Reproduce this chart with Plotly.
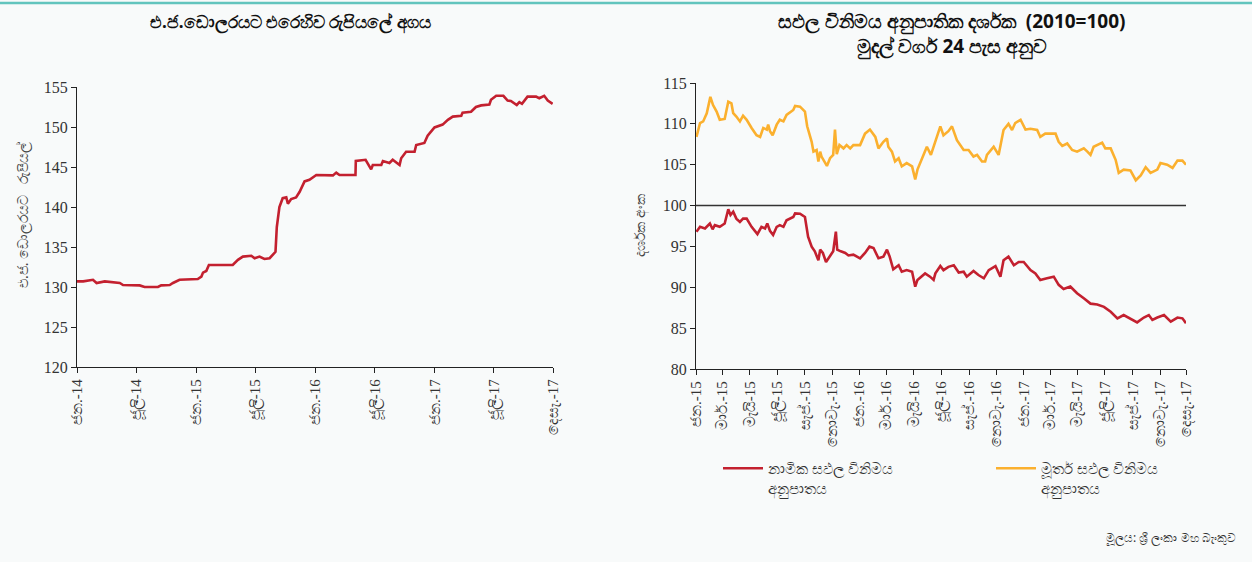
import plotly.graph_objects as go

# ---------------- data ----------------
usd_dates = ["2014-01-01","2014-01-20","2014-02-19","2014-03-02","2014-03-27","2014-05-12","2014-05-22",
             "2014-07-12","2014-07-27","2014-09-06","2014-09-16","2014-10-12","2014-10-22","2014-11-11",
             "2015-01-06","2015-01-17","2015-01-22","2015-02-01","2015-02-09","2015-04-23","2015-05-09",
             "2015-05-24","2015-06-19","2015-06-29","2015-07-14","2015-07-29","2015-08-14","2015-09-01",
             "2015-09-05","2015-09-08","2015-09-13","2015-09-23","2015-10-04","2015-10-09","2015-10-19",
             "2015-11-03","2015-11-14","2015-11-29","2015-12-14","2016-01-04","2016-02-24","2016-03-05",
             "2016-03-15","2016-05-03","2016-05-04","2016-06-03","2016-06-20","2016-06-25","2016-07-21",
             "2016-07-26","2016-08-15","2016-08-25","2016-09-15","2016-09-20","2016-10-05","2016-10-31",
             "2016-11-05","2016-11-30","2016-12-10","2016-12-31","2017-01-25","2017-02-10","2017-02-25",
             "2017-03-23","2017-03-27","2017-04-22","2017-05-07","2017-05-23","2017-06-17","2017-06-22",
             "2017-07-08","2017-07-30","2017-08-12","2017-08-22","2017-09-09","2017-09-17","2017-09-25",
             "2017-10-12","2017-11-07","2017-11-17","2017-12-02","2017-12-13","2017-12-28"]
usd_rate = [130.7,130.7,130.9,130.5,130.7,130.5,130.25,
            130.2,130.0,130.0,130.2,130.25,130.5,130.9,
            131.0,131.3,131.8,132.0,132.75,132.75,133.4,
            133.8,133.9,133.6,133.8,133.5,133.6,134.4,
            137.5,138.8,140.0,141.1,141.2,140.4,141.0,
            141.2,141.9,143.2,143.4,144.0,143.95,144.3,
            144.0,144.0,145.75,145.9,144.7,145.25,145.25,
            145.75,145.5,145.9,145.25,146.1,146.9,146.9,
            147.75,148.0,148.9,149.95,150.3,150.9,151.3,
            151.4,151.8,151.9,152.5,152.7,152.8,153.4,
            153.9,153.9,153.3,153.25,152.75,153.1,152.9,
            153.8,153.8,153.6,153.9,153.3,152.9]

reer_dates = ["2015-01-02","2015-01-10","2015-01-17","2015-01-25","2015-02-02","2015-02-08","2015-02-16",
              "2015-02-23","2015-03-06","2015-03-14","2015-03-21","2015-03-25","2015-04-01","2015-04-09",
              "2015-04-16","2015-04-24","2015-05-05","2015-05-16","2015-05-24","2015-05-31","2015-06-08",
              "2015-06-11","2015-06-15","2015-06-21","2015-06-30","2015-07-07","2015-07-15","2015-07-22",
              "2015-08-06","2015-08-10","2015-08-21","2015-09-01","2015-09-06","2015-09-16","2015-09-20",
              "2015-09-27","2015-10-01","2015-10-05","2015-10-08","2015-10-20","2015-10-27","2015-11-03",
              "2015-11-07","2015-11-11","2015-11-17","2015-11-26","2015-12-03","2015-12-11","2015-12-18",
              "2016-01-02","2016-01-13","2016-01-24","2016-02-05","2016-02-12","2016-02-23","2016-03-02",
              "2016-03-05","2016-03-13","2016-03-20","2016-03-28","2016-04-04","2016-04-15","2016-04-27",
              "2016-05-04","2016-05-09","2016-05-30","2016-06-08","2016-06-18","2016-06-29","2016-07-06",
              "2016-07-17","2016-07-25","2016-08-05","2016-08-20","2016-08-31","2016-09-11","2016-09-19",
              "2016-09-30","2016-10-07","2016-10-11","2016-10-26","2016-11-06","2016-11-17","2016-11-28",
              "2016-12-06","2016-12-13","2016-12-25","2017-01-05","2017-01-16","2017-01-31","2017-02-07",
              "2017-02-18","2017-03-02","2017-03-13","2017-03-20","2017-03-28","2017-04-08","2017-04-19",
              "2017-04-30","2017-05-15","2017-05-23","2017-05-30","2017-06-06","2017-06-25","2017-07-02",
              "2017-07-14","2017-07-25","2017-08-01","2017-08-12","2017-08-27","2017-09-08","2017-09-19",
              "2017-09-30","2017-10-11","2017-10-26","2017-11-02","2017-11-17","2017-11-29","2017-12-10",
              "2017-12-21","2017-12-29"]
reer_index = [108.4,110.1,110.3,111.3,113.3,112.3,111.5,
              110.5,110.6,112.7,112.5,111.3,110.9,110.3,
              111.0,110.5,109.5,108.6,108.4,109.5,109.3,
              109.9,109.1,108.6,109.9,110.5,110.3,111.1,
              111.7,112.2,112.1,111.5,109.7,107.8,106.6,
              106.8,105.4,106.6,106.0,104.85,105.8,106.2,
              109.3,106.3,107.4,107.0,107.4,107.0,107.4,
              107.4,108.8,109.3,108.4,107.0,107.8,108.2,
              107.2,106.6,105.4,105.8,104.8,105.2,104.8,
              103.2,104.4,107.2,106.2,108.0,109.7,108.6,
              109.1,109.7,108.0,106.8,106.8,106.0,106.2,
              105.4,105.4,106.2,107.2,106.2,109.25,110.0,
              109.25,110.1,110.5,109.3,109.4,109.25,108.4,
              108.8,108.8,108.8,107.8,107.3,107.6,106.8,
              106.6,107.0,106.6,106.2,107.2,107.7,107.0,
              107.0,105.6,104.0,104.4,104.3,103.1,103.7,
              104.7,104.0,104.4,105.2,105.0,104.6,105.5,
              105.5,105.0]

neer_dates = ["2015-01-02","2015-01-10","2015-01-21","2015-02-01","2015-02-07","2015-02-12","2015-02-23",
              "2015-03-06","2015-03-14","2015-03-19","2015-03-25","2015-04-01","2015-04-09","2015-04-16",
              "2015-04-24","2015-05-05","2015-05-18","2015-05-27","2015-06-04","2015-06-09","2015-06-15",
              "2015-06-22","2015-06-30","2015-07-07","2015-07-15","2015-07-22","2015-08-06","2015-08-10",
              "2015-08-21","2015-09-01","2015-09-08","2015-09-16","2015-09-23","2015-10-01","2015-10-05",
              "2015-10-11","2015-10-18","2015-10-27","2015-11-03","2015-11-09","2015-11-12","2015-11-20",
              "2015-11-30","2015-12-07","2015-12-18","2016-01-02","2016-01-13","2016-01-23","2016-02-01",
              "2016-02-12","2016-02-23","2016-03-02","2016-03-08","2016-03-16","2016-03-28","2016-04-04",
              "2016-04-15","2016-04-27","2016-05-04","2016-05-09","2016-05-26","2016-06-06","2016-06-14",
              "2016-06-18","2016-06-29","2016-07-06","2016-07-17","2016-07-29","2016-08-09","2016-08-20",
              "2016-08-27","2016-09-11","2016-09-22","2016-10-04","2016-10-15","2016-10-30","2016-11-10",
              "2016-11-17","2016-11-28","2016-12-10","2016-12-21","2017-01-01","2017-01-16","2017-01-27",
              "2017-02-07","2017-02-22","2017-03-09","2017-03-20","2017-03-31","2017-04-15","2017-04-30",
              "2017-05-15","2017-05-30","2017-06-14","2017-06-29","2017-07-14","2017-07-29","2017-08-12",
              "2017-08-27","2017-09-11","2017-09-26","2017-10-07","2017-10-15","2017-10-26","2017-11-10",
              "2017-11-25","2017-12-10","2017-12-21","2017-12-29"]
neer_index = [96.8,97.4,97.2,97.8,97.1,97.6,97.4,
              97.8,99.55,98.85,99.25,98.4,98.0,98.4,
              98.4,97.4,96.5,97.4,97.2,97.8,96.9,
              96.4,97.4,97.6,97.4,98.2,98.6,99.05,
              99.0,98.6,96.2,94.97,94.4,93.3,94.6,
              94.2,93.1,93.9,94.4,96.8,94.6,94.4,
              94.2,93.9,94.0,93.55,94.2,94.97,94.8,
              93.55,93.75,94.6,93.75,92.2,92.7,91.9,
              92.1,91.9,90.07,90.9,91.7,91.3,90.9,
              91.7,92.6,92.1,92.5,92.7,91.8,91.9,
              91.3,92.0,91.5,91.1,92.1,92.6,91.3,
              93.3,93.75,92.7,93.1,93.1,92.1,91.7,
              90.9,91.1,91.3,90.3,89.8,90.1,89.27,
              88.65,88.0,87.9,87.6,87.0,86.2,86.6,
              86.2,85.7,86.3,86.6,86.0,86.3,86.6,
              85.8,86.3,86.2,85.6]

left_tickvals = ["2014-01-01","2014-07-01","2015-01-01","2015-07-01","2016-01-01",
                 "2016-07-01","2017-01-01","2017-07-01","2017-12-29"]
left_ticktext = ["ජන.-14","ජූලි-14","ජන.-15","ජූලි-15","ජන.-16","ජූලි-16","ජන.-17","ජූලි-17","දෙසැ.-17"]

right_tickvals = ["2015-01-01","2015-03-01","2015-05-01","2015-07-01","2015-09-01","2015-11-01",
                  "2016-01-01","2016-03-01","2016-05-01","2016-07-01","2016-09-01","2016-11-01",
                  "2017-01-01","2017-03-01","2017-05-01","2017-07-01","2017-09-01","2017-11-01","2017-12-29"]
right_ticktext = ["ජන.-15","මාර්.-15","මැයි-15","ජූලි-15","සැප්.-15","නොවැ.-15",
                  "ජන.-16","මාර්.-16","මැයි-16","ජූලි-16","සැප්.-16","නොවැ.-16",
                  "ජන.-17","මාර්.-17","මැයි-17","ජූලි-17","සැප්.-17","නොවැ.-17","දෙසැ.-17"]

left_title = "<b>එ.ජ.ඩොලරයට එරෙහිව රුපියලේ අගය</b>"
right_title = "<b>සඵල විනිමය අනුපාතික දර්ශක  (2010=100)<br>මුදල් වර්ග 24 පැස අනුව</b>"
left_ytitle = "එ.ජ. ඩොලරයට   රුපියල්"
right_ytitle = "දර්ශක අංක"
neer_name = "නාමික සඵල විනිමය<br>අනුපාතය"
reer_name = "මූර්ත සඵල විනිමය<br>අනුපාතය"
source_text = "මූලය: ශ්‍රී ලංකා මහ බැංකුව"

RED = "#c3202f"
ORANGE = "#fbb02e"
SERIF = "Liberation Serif, Times New Roman, serif"
SANS = "Noto Sans, sans-serif"

fig = go.Figure()
fig.add_trace(go.Scatter(x=usd_dates, y=usd_rate, mode="lines", line=dict(color=RED, width=2.6),
                         xaxis="x", yaxis="y", showlegend=False))
fig.add_trace(go.Scatter(x=neer_dates, y=neer_index, mode="lines", name=neer_name,
                         line=dict(color=RED, width=2.6), xaxis="x2", yaxis="y2"))
fig.add_trace(go.Scatter(x=reer_dates, y=reer_index, mode="lines", name=reer_name,
                         line=dict(color=ORANGE, width=2.6), xaxis="x2", yaxis="y2"))

W, H = 1252, 562
def px_x(p): return p / W
def px_y(p): return 1 - p / H

axis_common = dict(showgrid=False, zeroline=False, showline=True, linecolor="#222", linewidth=1.3,
                   ticks="outside", ticklen=5, tickcolor="#222", tickwidth=1.2)
xfont = dict(family=SERIF, size=15, color="#333")
yfont = dict(family=SERIF, size=16, color="#333")

fig.update_layout(
    width=W, height=H,
    margin=dict(l=0, r=0, t=0, b=0, autoexpand=False),
    paper_bgcolor="#f8fafa", plot_bgcolor="#f8fafa",
    xaxis=dict(domain=[px_x(77), px_x(553)], type="date", range=["2014-01-01", "2017-12-29"],
               tickmode="array", tickvals=left_tickvals, ticktext=left_ticktext, tickangle=-90,
               anchor="y", tickfont=xfont, **axis_common),
    yaxis=dict(domain=[px_y(367), px_y(87)], range=[120, 155], dtick=5, tick0=120, anchor="x",
               tickfont=yfont, **axis_common),
    xaxis2=dict(domain=[px_x(696), px_x(1186)], type="date", range=["2015-01-01", "2017-12-29"],
                tickmode="array", tickvals=right_tickvals, ticktext=right_ticktext, tickangle=-90,
                anchor="y2", tickfont=xfont, **axis_common),
    yaxis2=dict(domain=[px_y(369), px_y(83)], range=[80, 115], dtick=5, tick0=80, anchor="x2",
                tickfont=yfont, **axis_common),
    legend=dict(orientation="h", x=px_x(718), y=px_y(452), xanchor="left", yanchor="top",
                font=dict(family=SANS, size=15, color="#333"), valign="top",
                entrywidth=218, entrywidthmode="pixels", bgcolor="rgba(0,0,0,0)",
                itemwidth=40, tracegroupgap=0),
    showlegend=True,
)

# reference line at 100
fig.add_shape(type="line", xref="x2 domain", yref="y2", x0=0, x1=1, y0=100, y1=100,
              line=dict(color="#333", width=1.5))
# top teal rule
fig.add_shape(type="line", xref="paper", yref="paper", x0=0, x1=1, y0=px_y(3), y1=px_y(3),
              line=dict(color="#62c4bd", width=2.5))

fig.add_annotation(text=left_title, xref="paper", yref="paper", x=px_x(290), y=px_y(22),
                   showarrow=False, font=dict(family=SANS, size=17, color="#111"), xanchor="center", yanchor="middle")
fig.add_annotation(text=right_title, xref="paper", yref="paper", x=px_x(952), y=px_y(34),
                   showarrow=False, font=dict(family=SANS, size=19, color="#111"), xanchor="center", yanchor="middle")
fig.add_annotation(text=left_ytitle, xref="paper", yref="paper", x=px_x(22), y=px_y(215), textangle=-90,
                   showarrow=False, font=dict(family=SANS, size=14, color="#444"), xanchor="center", yanchor="middle")
fig.add_annotation(text=right_ytitle, xref="paper", yref="paper", x=px_x(640), y=px_y(225), textangle=-90,
                   showarrow=False, font=dict(family=SANS, size=14, color="#444"), xanchor="center", yanchor="middle")
fig.add_annotation(text=source_text, xref="paper", yref="paper", x=px_x(1238), y=px_y(537),
                   showarrow=False, font=dict(family=SANS, size=12, color="#333"), xanchor="right", yanchor="middle")

fig.write_html("out.html", config={"displayModeBar": False},
               post_script="document.body.style.margin='0';document.body.style.overflow='hidden';")
